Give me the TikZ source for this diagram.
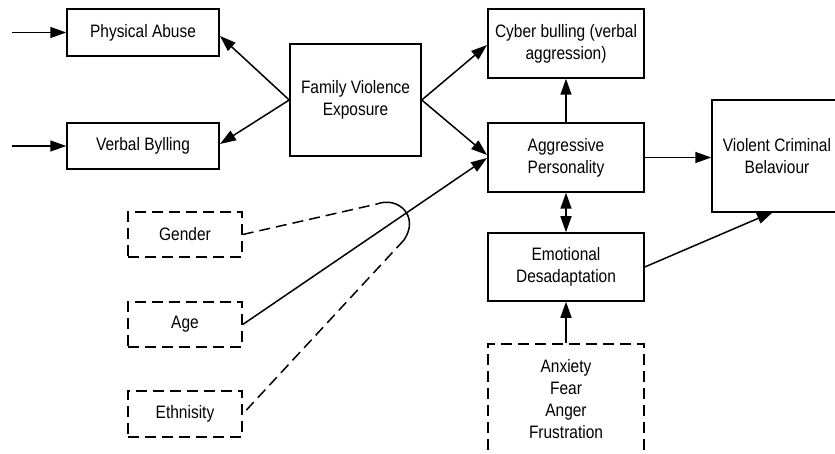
\documentclass[tikz,border=0pt]{standalone}
\usepackage{fontspec}
\setmainfont{Liberation Sans}[FakeStretch=0.86]
\usetikzlibrary{arrows.meta,calc}
\begin{document}
\begin{tikzpicture}[x=1pt,y=-1pt,
  box/.style={draw,line width=1.5pt,rectangle,inner sep=0pt,align=center,
    font=\fontsize{18pt}{22pt}\selectfont},
  dbox/.style={box,dash pattern=on 11pt off 6pt},
  arr/.style={line width=1.5pt,-{Triangle[length=16pt,width=11pt]}},
  darr/.style={line width=1.5pt,{Triangle[length=16pt,width=11pt]}-{Triangle[length=16pt,width=11pt]}},
  dline/.style={line width=1.5pt,dash pattern=on 11pt off 6pt}]
\clip (0,0) rectangle (835,454);
\useasboundingbox (0,0) rectangle (835,454);
\fill[white] (0,0) rectangle (835,454);
% nodes
\node[box,minimum width=152pt,minimum height=47pt] (PA) at (143,32.5) {Physical Abuse};
\node[box,minimum width=152pt,minimum height=46pt] (VB) at (143,146) {Verbal Bylling};
\node[box,minimum width=131pt,minimum height=112pt] (FVE) at (355.5,100) {Family Violence\\Exposure};
\node[box,minimum width=156pt,minimum height=69pt] (CB) at (566,43.5) {Cyber bulling (verbal\\aggression)};
\node[box,minimum width=156pt,minimum height=69pt] (AP) at (566,157.5) {Aggressive\\Personality};
\node[box,minimum width=156pt,minimum height=68pt] (ED) at (566,267) {Emotional\\Desadaptation};
\node[box,minimum width=130pt,minimum height=112pt] (VC) at (777,156) {Violent Criminal\\Belaviour};
\node[dbox,minimum width=156pt,minimum height=120pt,text depth=10pt] (AX) at (566,404) {Anxiety\\Fear\\Anger\\Frustration};
\node[dbox,minimum width=114pt,minimum height=45pt] (GE) at (185,234.5) {Gender};
\node[dbox,minimum width=114pt,minimum height=45pt] (AG) at (185,324.5) {Age};
\node[dbox,minimum width=114pt,minimum height=46pt] (ET) at (185,414) {Ethnisity};
% free ends
\coordinate (in1) at (12,32.5);
\coordinate (in2) at (12,146);
\coordinate (paT) at (220,36);
\coordinate (vbT) at (220,144);
\coordinate (cbT) at (487,45);
\coordinate (apT1) at (487,155);
\coordinate (apT2) at (487,158);
\coordinate (vcT) at (773,212);
\coordinate (lpA) at (377,204);
\coordinate (lpB) at (404,240);
% connectors
\draw[arr] (in1) -- (PA.west);
\draw[arr] (in2) -- (VB.west);
\draw[arr] (FVE.west) -- (paT);
\draw[arr] (FVE.west) -- (vbT);
\draw[arr] (FVE.east) -- (cbT);
\draw[arr] (FVE.east) -- (apT1);
\draw[arr] (AG.east) -- (apT2);
\draw[arr] (AP.north) -- (CB.south);
\draw[darr] (AP.south) -- (ED.north);
\draw[arr] (AX.north) -- (ED.south);
\draw[arr] (AP.east) -- (AP.east -| VC.west);
\draw[arr] (ED.east) -- (vcT);
\draw[dline] (GE.east) -- (lpA);
\draw[line width=1.5pt] (lpA) .. controls (398,196) and (420,216) .. (lpB);
\draw[dline] (lpB) -- (ET.east);
\end{tikzpicture}
\end{document}
